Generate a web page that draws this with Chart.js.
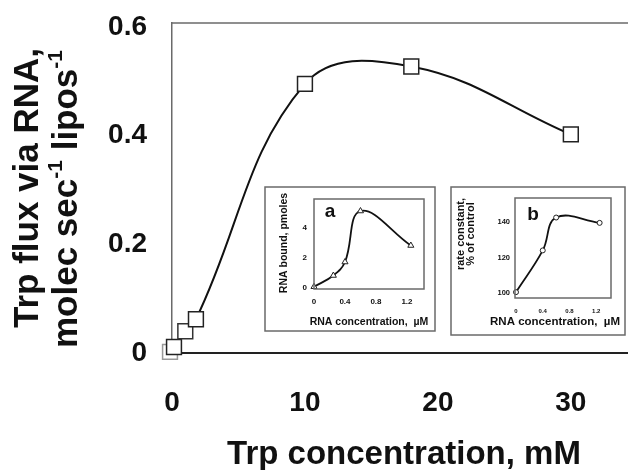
<!DOCTYPE html>
<html>
<head>
<meta charset="utf-8">
<script src="https://cdn.jsdelivr.net/npm/chart.js@4.4.0/dist/chart.umd.min.js"></script>
<style>
    html, body { margin: 0; padding: 0; background: #fff; }
    #wrap { position: relative; width: 628px; height: 470px; }
    canvas { position: absolute; }
</style>
</head>
<body>
<div id="wrap">
    <canvas id="mainChart" width="628" height="470" style="left:0;top:0"></canvas>
    <canvas id="insetA" width="172" height="146" style="left:264px;top:186px"></canvas>
    <canvas id="insetB" width="176" height="150" style="left:450px;top:186px"></canvas>
</div>
<script>
// main plot: Trp flux vs Trp concentration
const trpConc = [-0.15, 0.15, 1.0, 1.8, 10, 18, 30];
const trpFlux = [0.002, 0.011, 0.04, 0.062, 0.495, 0.527, 0.402];
const mainXTicks = [0, 10, 20, 30];
const mainYTicks = [0, 0.2, 0.4, 0.6];

// inset a: RNA bound
const rnaConcA = [0, 0.25, 0.4, 0.6, 1.25];
const rnaBound = [0.05, 0.8, 1.7, 5.1, 2.8];
const insetAXTicks = [0, 0.4, 0.8, 1.2];
const insetAYTicks = [0, 2, 4];

// inset b: rate constant
const rnaConcB = [0, 0.4, 0.6, 1.25];
const rateConst = [100.5, 124, 142.5, 139.5];
const insetBXTicks = [0, 0.4, 0.8, 1.2];
const insetBYTicks = [100, 120, 140];

const FONT = '"Liberation Sans", Arial, Helvetica, sans-serif';
const INK = '#111';
const FRAME = '#6a6a6a';

function pairs(xs, ys) {
    return xs.map((x, i) => ({ x: x, y: ys[i] }));
}

function fixedTicks(list) {
    return scale => { scale.ticks = list.map(v => ({ value: v })); };
}

// fixed axis size, no extra label overflow padding
function fitX(h) {
    return s => { s.height = h; s.paddingLeft = 0; s.paddingRight = 0; };
}
function fitY(w) {
    return s => { s.width = w; s.paddingTop = 0; s.paddingBottom = 0; };
}

// draws text with superscript pieces, centered on cx
function drawRich(ctx, parts, cx, y, size, supSize) {
    let total = 0;
    parts.forEach(p => {
        ctx.font = 'bold ' + (p.sup ? supSize : size) + 'px ' + FONT;
        p.w = ctx.measureText(p.t).width;
        total += p.w;
    });
    let x = cx - total / 2;
    ctx.textAlign = 'left';
    parts.forEach(p => {
        ctx.font = 'bold ' + (p.sup ? supSize : size) + 'px ' + FONT;
        ctx.fillText(p.t, x, p.sup ? y - size * 0.42 : y);
        x += p.w;
    });
}

const mainDecor = {
    id: 'mainDecor',
    afterDraw(chart) {
        const ctx = chart.ctx;
        const area = chart.chartArea;
        ctx.save();
        // top frame line
        ctx.strokeStyle = FRAME;
        ctx.lineWidth = 1.5;
        ctx.beginPath();
        ctx.moveTo(area.left, area.top);
        ctx.lineTo(chart.width, area.top);
        ctx.stroke();

        ctx.fillStyle = INK;
        ctx.textAlign = 'center';
        ctx.textBaseline = 'alphabetic';
        ctx.font = 'bold 33px ' + FONT;
        ctx.fillText('Trp concentration, mM', 404, 464);

        ctx.rotate(-Math.PI / 2);
        ctx.font = 'bold 35px ' + FONT;
        ctx.fillText('Trp flux via RNA,', -188, 38);
        drawRich(ctx, [
            { t: 'molec sec' }, { t: '-1', sup: true },
            { t: ' lipos' }, { t: '-1', sup: true }
        ], -199, 77, 35, 21);
        ctx.restore();
    }
};

new Chart(document.getElementById('mainChart'), {
    type: 'line',
    data: {
        datasets: [{
            data: pairs(trpConc, trpFlux),
            borderColor: INK,
            borderWidth: 2,
            tension: 0.4,
            pointStyle: 'rect',
            pointRadius: 10.5,
            pointBackgroundColor: '#fff',
            pointBorderColor: ['#999', '#222', '#333', '#222', '#222', '#222', '#222'],
            pointBorderWidth: 1.5,
            clip: false
        }]
    },
    options: {
        responsive: false,
        animation: false,
        events: [],
        layout: { autoPadding: false, padding: { top: 23, right: 0, bottom: 0, left: 0 } },
        plugins: { legend: { display: false }, tooltip: { enabled: false } },
        scales: {
            x: {
                type: 'linear',
                min: 0,
                max: 34.3,
                afterBuildTicks: fixedTicks(mainXTicks),
                afterFit: fitX(117),
                grid: { display: false, drawTicks: false },
                border: { display: true, color: '#222', width: 2 },
                ticks: {
                    padding: 33,
                    color: INK,
                    font: { family: FONT, size: 28, weight: 'bold' },
                    callback: v => String(v)
                }
            },
            y: {
                type: 'linear',
                min: 0,
                max: 0.607,
                afterBuildTicks: fixedTicks(mainYTicks),
                afterFit: fitY(172),
                grid: { display: false, drawTicks: false },
                border: { display: true, color: FRAME, width: 1.5 },
                ticks: {
                    padding: 25,
                    color: INK,
                    font: { family: FONT, size: 28, weight: 'bold' },
                    callback: v => String(v)
                }
            }
        }
    },
    plugins: [mainDecor]
});

// inset frames and labels
function insetDecor(cfg) {
    return {
        id: 'insetDecor',
        beforeDraw(chart) {
            const ctx = chart.ctx;
            ctx.save();
            ctx.fillStyle = '#fff';
            ctx.fillRect(0, 0, chart.width, chart.height);
            ctx.restore();
        },
        afterDraw(chart) {
            const ctx = chart.ctx;
            const a = chart.chartArea;
            ctx.save();
            ctx.strokeStyle = FRAME;
            ctx.lineWidth = 1.5;
            ctx.strokeRect(1, 1, chart.width - 2, chart.height - 2);
            ctx.strokeRect(a.left, a.top, a.right - a.left, a.bottom - a.top);

            ctx.fillStyle = INK;
            ctx.textAlign = 'center';
            ctx.textBaseline = 'alphabetic';
            ctx.font = 'bold 19px ' + FONT;
            ctx.fillText(cfg.letter, cfg.letterX, cfg.letterY);

            ctx.textBaseline = 'middle';
            ctx.font = 'bold ' + cfg.xTitleSize + 'px ' + FONT;
            ctx.fillText('RNA concentration,  µM', cfg.xTitleX, 136);

            ctx.rotate(-Math.PI / 2);
            ctx.font = 'bold ' + cfg.yTitleSize + 'px ' + FONT;
            cfg.yTitle.forEach((line, i) => {
                ctx.fillText(line, -cfg.yTitleY, cfg.yTitleX[i]);
            });
            ctx.restore();
        }
    };
}

function insetChart(id, xs, ys, o) {
    return new Chart(document.getElementById(id), {
        type: 'line',
        data: {
            datasets: [{
                data: pairs(xs, ys),
                borderColor: INK,
                borderWidth: 1.8,
                tension: 0.4,
                pointStyle: o.pointStyle,
                pointRadius: o.pointRadius,
                pointBackgroundColor: '#fff',
                pointBorderColor: '#222',
                pointBorderWidth: 1,
                clip: false
            }]
        },
        options: {
            responsive: false,
            animation: false,
            events: [],
            layout: { autoPadding: false, padding: { top: o.top, right: o.right, bottom: 0, left: 0 } },
            plugins: { legend: { display: false }, tooltip: { enabled: false } },
            scales: {
                x: {
                    type: 'linear',
                    min: o.xMin,
                    max: 1.42,
                    afterBuildTicks: fixedTicks(o.xTicks),
                    afterFit: fitX(o.xHeight),
                    grid: { display: false, drawTicks: false },
                    border: { display: false },
                    ticks: {
                        padding: o.xPad,
                        color: INK,
                        font: { family: FONT, size: o.xTickSize, weight: 'bold' },
                        callback: v => String(v)
                    }
                },
                y: {
                    type: 'linear',
                    min: o.yMin,
                    max: o.yMax,
                    afterBuildTicks: fixedTicks(o.yTicks),
                    afterFit: fitY(o.yWidth),
                    grid: { display: false, drawTicks: false },
                    border: { display: false },
                    ticks: {
                        padding: o.yPad,
                        color: INK,
                        font: { family: FONT, size: o.yTickSize, weight: 'bold' },
                        callback: v => String(v)
                    }
                }
            }
        },
        plugins: [insetDecor(o)]
    });
}

insetChart('insetA', rnaConcA, rnaBound, {
    pointStyle: 'triangle', pointRadius: 3.5,
    top: 13, right: 12, xHeight: 43, yWidth: 50,
    xMin: 0, xTicks: insetAXTicks, xPad: 8, xTickSize: 8,
    yMin: -0.1, yMax: 5.9, yTicks: insetAYTicks, yPad: 7, yTickSize: 8,
    letter: 'a', letterX: 66, letterY: 31,
    xTitleX: 105, xTitleSize: 10.5,
    yTitle: ['RNA bound, pmoles'], yTitleX: [20], yTitleY: 57, yTitleSize: 10.5
});

insetChart('insetB', rnaConcB, rateConst, {
    pointStyle: 'circle', pointRadius: 2.5,
    top: 12, right: 15, xHeight: 38, yWidth: 65,
    xMin: -0.015, xTicks: insetBXTicks, xPad: 10, xTickSize: 6,
    yMin: 97.2, yMax: 153.5, yTicks: insetBYTicks, yPad: 5, yTickSize: 7.5,
    letter: 'b', letterX: 83, letterY: 34,
    xTitleX: 105, xTitleSize: 11.5,
    yTitle: ['rate constant,', '% of control'], yTitleX: [11, 21], yTitleY: 48, yTitleSize: 11
});
</script>
</body>
</html>
